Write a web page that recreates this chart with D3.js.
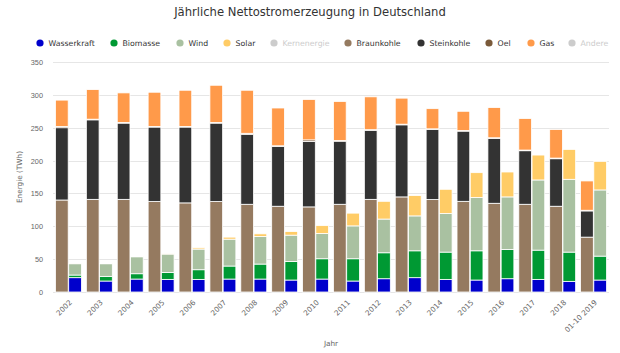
<!DOCTYPE html>
<html>
<head>
<meta charset="utf-8">
<script src="https://cdn.jsdelivr.net/npm/d3@7"></script>
<style>
  body { margin: 0; background: #fff; }
  svg { display: block; font-family: "DejaVu Sans", Verdana, sans-serif; }
</style>
</head>
<body>
<div id="chart"></div>
<script>
// data (TWh)
const years = ["2002", "2003", "2004", "2005", "2006", "2007", "2008", "2009", "2010",
  "2011", "2012", "2013", "2014", "2015", "2016", "2017", "2018", "01-10 2019"]

// renewables (right bar of each year)
const wasserkraft = [21.8, 16.7, 19.7, 19.2, 19.2, 19.7, 19.7, 18.2, 19.7, 16.7, 20.2, 21.8, 19.2, 18.2, 20.2, 19.2, 16.2, 18.2]
const biomasse    = [4.0, 7.1, 8.1, 10.6, 14.7, 19.8, 22.8, 28.3, 30.9, 33.9, 39.5, 40.9, 41.5, 44.5, 44.5, 44.5, 44.5, 36.4]
const wind        = [17.2, 19.2, 25.8, 27.9, 31.4, 40.9, 42.0, 40.0, 38.4, 50.0, 51.3, 53.1, 58.7, 81.0, 80.0, 106.8, 110.8, 100.7]
const solar       = [0.2, 0.3, 0.6, 1.3, 2.0, 3.1, 4.0, 5.5, 12.0, 19.4, 27.0, 30.9, 36.9, 37.9, 37.9, 37.9, 45.5, 43.5]

// conventional (left bar of each year)
const braunkohle  = [140, 141, 141, 137.6, 135.6, 137.6, 133.5, 130.5, 129.5, 133.5, 141, 144.7, 140.6, 138, 135, 133.5, 130.5, 83.5]
const steinkohle  = [110, 121, 116, 113.4, 115.4, 119.4, 106.5, 91, 99.5, 96, 105, 109.7, 106.7, 106.8, 98.7, 81.5, 72.3, 39.9]
const oel         = [2, 1, 1, 1, 1, 1, 1.5, 1, 2.5, 1, 1, 1, 1, 1, 1, 1, 1, 1]
const gas         = [40, 45, 45, 52, 55, 56.6, 65.5, 57.5, 61.5, 59.5, 50, 39.6, 30.7, 29.2, 46, 48, 43.5, 44.6]

const yTicks = [0, 50, 100, 150, 200, 250, 300, 350]

const legendItems = [
  {name: "Wasserkraft", color: "#0000cc", x: 40},
  {name: "Biomasse", color: "#009933", x: 114},
  {name: "Wind", color: "#a9c1a1", x: 180},
  {name: "Solar", color: "#ffcc66", x: 227},
  {name: "Kernenergie", color: "#cccccc", x: 274, hidden: true},
  {name: "Braunkohle", color: "#957a60", x: 348},
  {name: "Steinkohle", color: "#333333", x: 421},
  {name: "Oel", color: "#7a5a3a", x: 489},
  {name: "Gas", color: "#ff9a4a", x: 531},
  {name: "Andere", color: "#cccccc", x: 572, hidden: true}
]
const colorOf = Object.fromEntries(legendItems.map(d => [d.name, d.color]))

const width = 620
const height = 353
const margin = {top: 62, right: 11, bottom: 61, left: 53}

const svg = d3.select("#chart").append("svg")
  .attr("width", width)
  .attr("height", height)

// title
svg.append("text")
  .attr("x", width / 2)
  .attr("y", 16)
  .attr("text-anchor", "middle")
  .attr("fill", "#333")
  .style("font-size", "11.6px")
  .text("Jährliche Nettostromerzeugung in Deutschland")

// legend
const legend = svg.append("g")
legendItems.forEach(d => {
  legend.append("circle")
    .attr("cx", d.x)
    .attr("cy", 43)
    .attr("r", 3.6)
    .attr("fill", d.hidden ? "#cccccc" : d.color)
  legend.append("text")
    .attr("x", d.x + 8.5)
    .attr("y", 45.8)
    .attr("fill", d.hidden ? "#cccccc" : "#333")
    .style("font-size", "7.8px")
    .text(d.name)
})

const x = d3.scaleBand()
  .domain(years)
  .range([margin.left, width - margin.right])
  .paddingInner(0.16)
  .paddingOuter(0.08)

const xSub = d3.scaleBand()
  .domain(["conv", "ren"])
  .range([0, x.bandwidth()])
  .paddingInner(0.04)

const y = d3.scaleLinear()
  .domain([0, 350])
  .range([height - margin.bottom, margin.top])

// grid
svg.append("g")
  .selectAll("line")
  .data(yTicks)
  .join("line")
  .attr("x1", margin.left)
  .attr("x2", width - margin.right)
  .attr("y1", d => Math.round(y(d)) + 0.5)
  .attr("y2", d => Math.round(y(d)) + 0.5)
  .attr("stroke", "#e6e6e6")
  .attr("stroke-width", 1)

// y axis labels
svg.append("g")
  .attr("transform", `translate(${margin.left - 10},0)`)
  .call(d3.axisLeft(y).tickValues(yTicks).tickSize(0).tickPadding(0))
  .call(g => g.select(".domain").remove())
  .call(g => g.selectAll("text")
    .attr("fill", "#666")
    .style("font-size", "7.3px")
    .attr("dy", "0.35em"))

svg.append("text")
  .attr("transform", `translate(22,${(margin.top + height - margin.bottom) / 2}) rotate(-90)`)
  .attr("text-anchor", "middle")
  .attr("fill", "#666")
  .style("font-size", "7.3px")
  .text("Energie (TWh)")

// stacked bars
const rows = years.map((yr, i) => ({
  year: yr,
  Wasserkraft: wasserkraft[i], Biomasse: biomasse[i], Wind: wind[i], Solar: solar[i],
  Braunkohle: braunkohle[i], Steinkohle: steinkohle[i], Oel: oel[i], Gas: gas[i]
}))

const groups = [
  {key: "conv", series: ["Braunkohle", "Steinkohle", "Oel", "Gas"]},
  {key: "ren", series: ["Wasserkraft", "Biomasse", "Wind", "Solar"]}
]

groups.forEach(grp => {
  const stacked = d3.stack().keys(grp.series)(rows)
  svg.append("g")
    .selectAll("g")
    .data(stacked)
    .join("g")
    .attr("fill", s => colorOf[s.key])
    .selectAll("rect")
    .data(s => s)
    .join("rect")
    .attr("x", d => x(d.data.year) + xSub(grp.key))
    .attr("width", xSub.bandwidth())
    .attr("y", d => y(d[1]))
    .attr("height", d => Math.max(0, y(d[0]) - y(d[1])))
    .attr("stroke", "#fff")
    .attr("stroke-width", 0.8)
})

// x axis labels
const xLabels = svg.append("g")
years.forEach(yr => {
  const cx = x(yr) + x.bandwidth() / 2
  xLabels.append("text")
    .attr("transform", `translate(${cx + 4},${height - margin.bottom + 11}) rotate(-45)`)
    .attr("text-anchor", "end")
    .attr("fill", "#666")
    .style("font-size", "7.3px")
    .text(yr)
})

svg.append("text")
  .attr("x", (margin.left + width - margin.right) / 2)
  .attr("y", 346)
  .attr("text-anchor", "middle")
  .attr("fill", "#666")
  .style("font-size", "7.3px")
  .text("Jahr")
</script>
</body>
</html>
